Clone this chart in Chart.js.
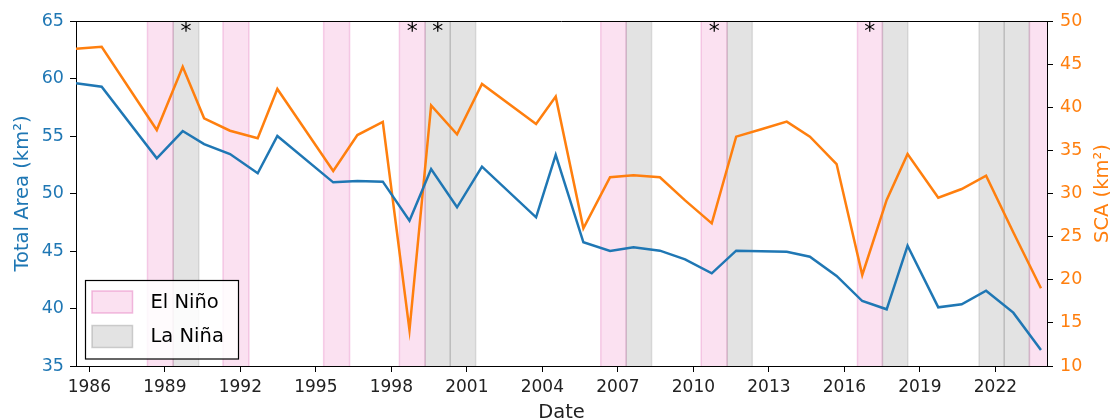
<!DOCTYPE html>
<html>
<head>
<meta charset="utf-8">
<title>Total Area and SCA, 1986–2023</title>
<script src="https://cdn.jsdelivr.net/npm/chart.js@4.4.1/dist/chart.umd.min.js"></script>
<style>
  html, body { margin: 0; padding: 0; background: #fff; }
  #wrap { width: 1110px; height: 418px; position: relative; }
</style>
</head>
<body>
<div id="wrap"><canvas id="chart"></canvas></div>
<script>
// Observation dates (decimal years)
const dates = [
  1985.47, 1986.49, 1988.68, 1989.71, 1990.56, 1991.59, 1992.69, 1993.47,
  1995.69, 1996.65, 1997.66, 1998.72, 1999.58, 2000.61, 2001.60, 2003.75,
  2004.53, 2005.63, 2006.69, 2007.62, 2008.67, 2009.67, 2010.73, 2011.70,
  2012.70, 2013.71, 2014.63, 2015.69, 2016.71, 2017.68, 2018.51, 2019.73,
  2020.66, 2021.63, 2022.71, 2023.81
];

// Total area (km²), left axis
const totalArea = [
  59.58, 59.29, 53.06, 55.43, 54.30, 53.43, 51.76, 55.00,
  50.97, 51.08, 51.03, 47.63, 52.13, 48.80, 52.33, 47.93,
  53.35, 45.76, 45.00, 45.32, 45.03, 44.28, 43.06, 45.03,
  44.98, 44.94, 44.50, 42.83, 40.65, 39.93, 45.46, 40.10,
  40.37, 41.55, 39.64, 36.39
];

// Snow-covered area (km²), right axis
const sca = [
  46.79, 47.02, 37.36, 44.70, 38.72, 37.28, 36.40, 42.12,
  32.61, 36.78, 38.29, 14.17, 40.22, 36.86, 42.70, 38.06,
  41.23, 25.96, 31.88, 32.11, 31.88, 29.20, 26.54, 36.59,
  37.45, 38.33, 36.59, 33.42, 20.55, 29.25, 34.58, 29.52,
  30.52, 32.06, 25.50, 19.01
];

// ENSO episodes: [start, end] in decimal years
const elNinoPeriods = [
  [1988.31, 1989.33], [1991.31, 1992.34], [1995.31, 1996.34], [1998.32, 1999.34],
  [2006.32, 2007.33], [2010.31, 2011.34], [2016.52, 2017.51], [2023.35, 2024.35]
];
const laNinaPeriods = [
  [1989.33, 1990.35], [1999.34, 2000.34], [2000.34, 2001.35], [2007.33, 2008.34],
  [2011.34, 2012.34], [2017.51, 2018.52], [2021.35, 2022.35], [2022.35, 2023.35]
];

// Episodes flagged with an asterisk (centre of the episode)
const starredDates = [1989.84, 1998.83, 1999.84, 2010.83, 2017.01];

// Axis ticks
const xTickYears = [1986, 1989, 1992, 1995, 1998, 2001, 2004, 2007, 2010, 2013, 2016, 2019, 2022];
const xRange = [1985.47, 2024.05];
const areaRange = [35, 65];
const scaRange = [10, 50];

const BLUE = '#1f77b4';
const ORANGE = '#ff7f0e';
const FONT = "'DejaVu Sans', 'Liberation Sans', sans-serif";
const FS = 17;      // tick labels
const FS_T = 19.5;  // axis titles and legend

const PINK_FILL = 'rgba(235, 105, 185, 0.2)';
const PINK_EDGE = 'rgba(225, 110, 185, 0.3)';
const GREY_FILL = 'rgba(128, 128, 128, 0.22)';
const GREY_EDGE = 'rgba(128, 128, 128, 0.22)';

// Shaded ENSO bands behind the lines
const bandsPlugin = {
  id: 'ensoBands',
  beforeDatasetsDraw(chart) {
    const { ctx, chartArea: a, scales: { x } } = chart;
    ctx.save();
    ctx.beginPath();
    ctx.rect(a.left, a.top, a.right - a.left, a.bottom - a.top);
    ctx.clip();
    const draw = (periods, fill, edge) => {
      periods.forEach(([s, e]) => {
        const x1 = x.getPixelForValue(s);
        const x2 = x.getPixelForValue(e);
        ctx.fillStyle = fill;
        ctx.fillRect(x1, a.top, x2 - x1, a.bottom - a.top);
        ctx.strokeStyle = edge;
        ctx.lineWidth = 1.5;
        ctx.beginPath();
        ctx.moveTo(x1, a.top); ctx.lineTo(x1, a.bottom);
        ctx.moveTo(x2, a.top); ctx.lineTo(x2, a.bottom);
        ctx.stroke();
      });
    };
    draw(elNinoPeriods, PINK_FILL, PINK_EDGE);
    draw(laNinaPeriods, GREY_FILL, GREY_EDGE);
    ctx.restore();
  }
};

// Frame, asterisks, legend and axis titles
const decorPlugin = {
  id: 'decor',
  afterDraw(chart) {
    const { ctx, chartArea: a, scales: { x } } = chart;
    ctx.save();

    // top spine
    ctx.strokeStyle = '#000';
    ctx.lineWidth = 1;
    ctx.beginPath();
    ctx.moveTo(a.left, a.top + 0.5);
    ctx.lineTo(a.right, a.top + 0.5);
    ctx.stroke();

    // asterisks
    ctx.fillStyle = '#000';
    ctx.font = `22px ${FONT}`;
    ctx.textAlign = 'center';
    ctx.textBaseline = 'alphabetic';
    starredDates.forEach(d => {
      ctx.fillText('*', x.getPixelForValue(d), a.top + 17);
    });

    // legend
    const lx = 85.5, ly = 280.5, lw = 153, lh = 78.5;
    ctx.fillStyle = 'rgba(255,255,255,0.85)';
    ctx.fillRect(lx, ly, lw, lh);
    ctx.strokeStyle = '#000';
    ctx.lineWidth = 1.2;
    ctx.strokeRect(lx, ly, lw, lh);
    const items = [
      { label: 'El Niño', fill: PINK_FILL, edge: 'rgba(225, 110, 185, 0.45)', y: 291 },
      { label: 'La Niña', fill: GREY_FILL, edge: 'rgba(128, 128, 128, 0.35)', y: 325.5 }
    ];
    ctx.font = `${FS_T}px ${FONT}`;
    ctx.textAlign = 'left';
    ctx.textBaseline = 'middle';
    items.forEach(it => {
      ctx.fillStyle = it.fill;
      ctx.fillRect(92, it.y, 40.5, 22);
      ctx.strokeStyle = it.edge;
      ctx.lineWidth = 1.5;
      ctx.strokeRect(92, it.y, 40.5, 22);
      ctx.fillStyle = '#000';
      ctx.fillText(it.label, 150.5, it.y + 11.5);
    });

    // axis titles
    ctx.font = `${FS_T}px ${FONT}`;
    ctx.textAlign = 'center';
    ctx.textBaseline = 'alphabetic';
    const midY = (a.top + a.bottom) / 2;

    ctx.fillStyle = BLUE;
    ctx.save();
    ctx.translate(27.5, midY);
    ctx.rotate(-Math.PI / 2);
    ctx.fillText('Total Area (km²)', 0, 0);
    ctx.restore();

    ctx.fillStyle = ORANGE;
    ctx.save();
    ctx.translate(1108, midY);
    ctx.rotate(-Math.PI / 2);
    ctx.fillText('SCA (km²)', 0, 0);
    ctx.restore();

    ctx.fillStyle = '#222';
    ctx.fillText('Date', (a.left + a.right) / 2, 417.5);

    ctx.restore();
  }
};

const tickFont = { family: FONT, size: FS };

new Chart(document.getElementById('chart'), {
  type: 'line',
  data: {
    datasets: [
      {
        label: 'Total Area',
        data: dates.map((d, i) => ({ x: d, y: totalArea[i] })),
        borderColor: BLUE,
        borderWidth: 2.5,
        pointRadius: 0,
        tension: 0,
        yAxisID: 'y'
      },
      {
        label: 'SCA',
        data: dates.map((d, i) => ({ x: d, y: sca[i] })),
        borderColor: ORANGE,
        borderWidth: 2.5,
        pointRadius: 0,
        tension: 0,
        yAxisID: 'y1'
      }
    ]
  },
  options: {
    responsive: true,
    maintainAspectRatio: false,
    devicePixelRatio: 1,
    animation: false,
    layout: { padding: { top: 21, left: 0, right: 0, bottom: 0 } },
    plugins: {
      legend: { display: false },
      tooltip: { enabled: false }
    },
    scales: {
      x: {
        type: 'linear',
        position: 'bottom',
        min: xRange[0],
        max: xRange[1],
        afterBuildTicks: s => { s.ticks = xTickYears.map(v => ({ value: v })); },
        afterFit: s => { s.height = 52; },
        ticks: {
          font: tickFont,
          color: '#222',
          padding: 5,
          maxRotation: 0,
          autoSkip: false,
          callback: v => String(v)
        },
        grid: { drawOnChartArea: false, tickLength: 6, tickColor: '#000', color: '#000' },
        border: { color: '#000', width: 1 }
      },
      y: {
        position: 'left',
        min: areaRange[0],
        max: areaRange[1],
        afterFit: s => { s.width = 76; },
        ticks: { stepSize: 5, font: { family: FONT, size: 17.5 }, color: BLUE, padding: 6 },
        grid: { drawOnChartArea: false, tickLength: 6, tickColor: '#000', color: '#000' },
        border: { color: '#000', width: 1 }
      },
      y1: {
        position: 'right',
        min: scaRange[0],
        max: scaRange[1],
        afterFit: s => { s.width = 63; },
        ticks: { stepSize: 5, font: { family: FONT, size: 17.5 }, color: ORANGE, padding: 7 },
        grid: { drawOnChartArea: false, tickLength: 6, tickColor: '#000', color: '#000' },
        border: { color: '#000', width: 1 }
      }
    }
  },
  plugins: [bandsPlugin, decorPlugin]
});
</script>
</body>
</html>
